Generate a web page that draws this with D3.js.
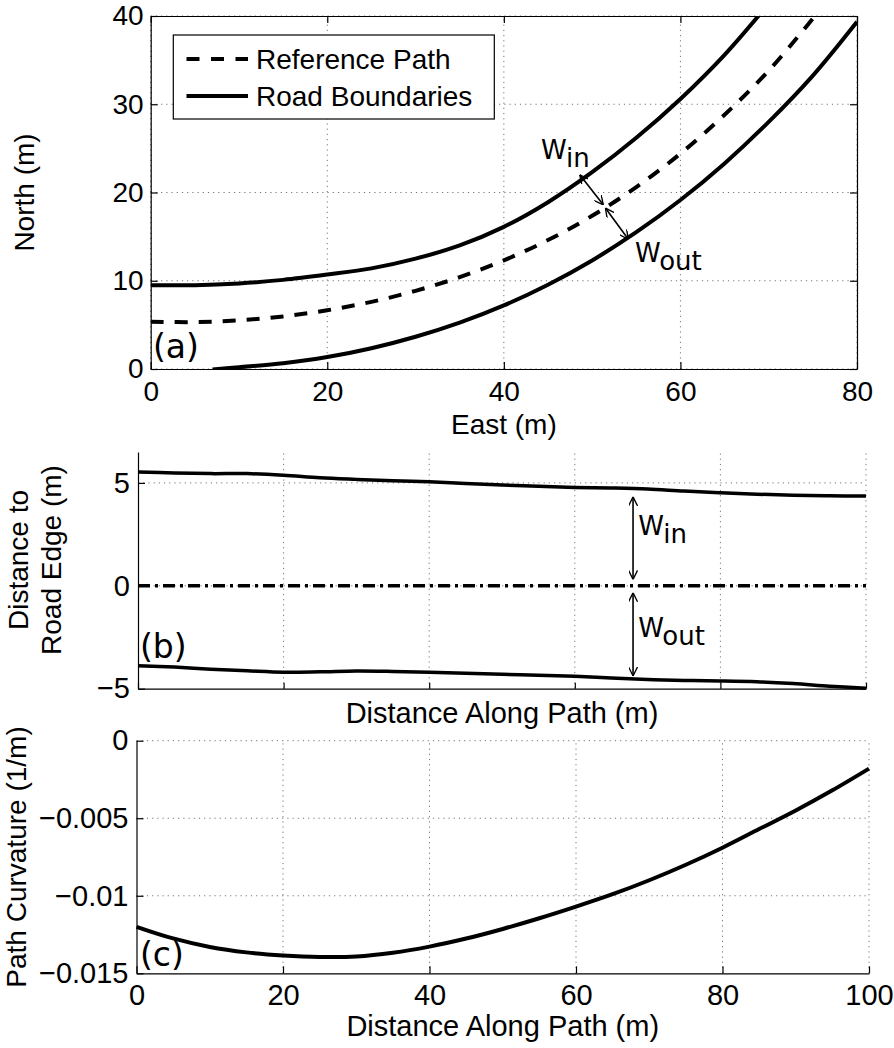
<!DOCTYPE html>
<html>
<head>
<meta charset="utf-8">
<script src="https://cdn.jsdelivr.net/npm/d3@7/dist/d3.min.js"></script>
<style>
  html, body { margin: 0; padding: 0; background: #fff; }
  svg { display: block; }
  text { font-family: "Liberation Sans", Arial, sans-serif; fill: #000; }
  .ann { font-family: "DejaVu Sans", sans-serif; }
</style>
</head>
<body>
<script>
// ---------- DATA ----------
// Panel (a): road geometry (East, North in m)
const refEast   = [0, 5, 10, 15, 20, 25, 30, 35, 40, 45, 50, 55, 60, 65, 70, 75];
const refNorth  = [5.36, 5.31, 5.51, 5.96, 6.66, 7.61, 8.86, 10.41, 12.31, 14.61, 17.36, 20.61, 24.41, 28.81, 33.81, 39.7];
const innerEast = [0, 5, 10, 15, 20, 25, 30, 35, 40, 45, 50, 55, 60, 65, 70];
const innerNorth= [9.5, 9.5, 9.7, 10.1, 10.7, 11.4, 12.5, 14.0, 16.1, 18.9, 22.3, 26.2, 30.6, 35.6, 41.4];
const outerEast = [7, 10, 15, 20, 25, 30, 35, 40, 45, 50, 55, 60, 65, 70, 75, 80];
const outerNorth= [-0.05, 0.2, 0.65, 1.35, 2.35, 3.65, 5.25, 7.2, 9.55, 12.3, 15.5, 19.15, 23.3, 28.0, 33.25, 39.35];
const eastTicks  = [0, 20, 40, 60, 80];
const northTicks = [0, 10, 20, 30, 40];

// Panel (b): distance to road edge vs distance along path
const alongPath = [0, 5, 10, 15, 20, 25, 30, 35, 40, 45, 50, 55, 60, 65, 70, 75, 80, 85, 90, 95, 100];
const wIn  = [5.53, 5.48, 5.45, 5.45, 5.37, 5.25, 5.17, 5.10, 5.05, 4.97, 4.90, 4.83, 4.78, 4.75, 4.70, 4.60, 4.52, 4.45, 4.40, 4.37, 4.36];
const wOut = [-3.88, -3.95, -4.05, -4.13, -4.20, -4.18, -4.14, -4.16, -4.20, -4.25, -4.30, -4.35, -4.40, -4.48, -4.55, -4.60, -4.62, -4.66, -4.75, -4.88, -4.98];
const edgeTicks = [-5, 0, 5];

// Panel (c): path curvature
const curvature = [-0.0120, -0.01275, -0.0133, -0.01365, -0.01385, -0.01395, -0.01392, -0.01368, -0.01328, -0.01276, -0.01214, -0.01145, -0.0107, -0.0099, -0.0090, -0.0080, -0.0069, -0.0057, -0.0045, -0.0032, -0.0018];
const pathTicks = [0, 20, 40, 60, 80, 100];
const curvTicks = [-0.015, -0.01, -0.005, 0];
const curvTickLabels = ["\u22120.015", "\u22120.01", "\u22120.005", "0"];

// Annotations (data coordinates)
const arrowsA = [[48.6, 22.0, 51.26, 18.6], [51.5, 18.24, 54.1, 14.7]];
const arrowsB = [[68, 4.32, 68, 0.31], [68, -0.34, 68, -4.38]];

// ---------- LAYOUT ----------
const W = 894, H = 1048;
const svg = d3.select("body").append("svg").attr("width", W).attr("height", H);

const defs = svg.append("defs");
const mk = defs.append("marker").attr("id", "ah")
  .attr("viewBox", "0 0 10 10").attr("refX", 10).attr("refY", 5)
  .attr("markerWidth", 9).attr("markerHeight", 9).attr("markerUnits", "userSpaceOnUse")
  .attr("orient", "auto-start-reverse");
mk.append("path").attr("d", "M0,0 L10,5 L0,10").attr("fill", "none").attr("stroke", "#000").attr("stroke-width", 1.5);

const gridStyle = g => g.attr("stroke", "#666").attr("stroke-width", 0.9).attr("stroke-dasharray", "1.2,4").attr("fill", "none");

function addClip(id, x0, x1, y0, y1) {
  defs.append("clipPath").attr("id", id).append("rect")
    .attr("x", x0).attr("y", y0).attr("width", x1 - x0).attr("height", y1 - y0);
}

function grid(g, x, y, xt, yt) {
  const [x0, x1] = x.range(), [y0, y1] = y.range();
  xt.forEach(v => g.append("line").attr("x1", x(v)).attr("x2", x(v)).attr("y1", y0).attr("y2", y1).call(gridStyle));
  yt.forEach(v => g.append("line").attr("x1", x0).attr("x2", x1).attr("y1", y(v)).attr("y2", y(v)).call(gridStyle));
}

function styleAxis(g, fs) {
  g.select(".domain").attr("stroke", "#000").attr("stroke-width", 1.2);
  g.selectAll(".tick line").attr("stroke", "#000").attr("stroke-width", 1.2);
  g.selectAll(".tick text").attr("font-size", fs).attr("font-family", "Liberation Sans, Arial, sans-serif");
}

// ================= PANEL (a) =================
const xA = d3.scaleLinear().domain([0, 80]).range([150.7, 857]);
const yA = d3.scaleLinear().domain([0, 40]).range([369, 16]);
const gA = svg.append("g");
grid(gA, xA, yA, eastTicks, northTicks);
addClip("clipA", 150.7, 857, 16, 369);

const lineA = d3.line().x(d => xA(d[0])).y(d => yA(d[1])).curve(d3.curveCatmullRom.alpha(0.5));
const curvesA = gA.append("g").attr("clip-path", "url(#clipA)");
curvesA.append("path").datum(d3.zip(innerEast, innerNorth)).attr("d", lineA)
  .attr("fill", "none").attr("stroke", "#000").attr("stroke-width", 4);
curvesA.append("path").datum(d3.zip(outerEast, outerNorth)).attr("d", lineA)
  .attr("fill", "none").attr("stroke", "#000").attr("stroke-width", 4);
curvesA.append("path").datum(d3.zip(refEast, refNorth)).attr("d", lineA)
  .attr("fill", "none").attr("stroke", "#000").attr("stroke-width", 4).attr("stroke-dasharray", "13,11");

const axA = [
  gA.append("g").attr("transform", `translate(0,${yA(0)})`).call(d3.axisBottom(xA).tickValues(eastTicks).tickSizeInner(-7).tickSizeOuter(0).tickPadding(14)),
  gA.append("g").attr("transform", `translate(${xA(0)},0)`).call(d3.axisLeft(yA).tickValues(northTicks).tickSizeInner(-7).tickSizeOuter(0).tickPadding(14)),
  gA.append("g").attr("transform", `translate(0,${yA(40)})`).call(d3.axisTop(xA).tickValues(eastTicks).tickSizeInner(-7).tickSizeOuter(0).tickFormat("")),
  gA.append("g").attr("transform", `translate(${xA(80)},0)`).call(d3.axisRight(yA).tickValues(northTicks).tickSizeInner(-7).tickSizeOuter(0).tickFormat(""))
];
axA.forEach(g => styleAxis(g, 28));
axA[0].selectAll(".tick text").attr("dy", null).attr("y", 32);
axA[1].selectAll(".tick text").attr("x", -7);

arrowsA.forEach(a => gA.append("line")
  .attr("x1", xA(a[0])).attr("y1", yA(a[1])).attr("x2", xA(a[2])).attr("y2", yA(a[3]))
  .attr("stroke", "#000").attr("stroke-width", 1.6)
  .attr("marker-start", "url(#ah)").attr("marker-end", "url(#ah)"));

function wLabel(g, x, y, sub) {
  const t = g.append("text").attr("class", "ann").attr("x", x).attr("y", y).attr("font-size", 26);
  t.append("tspan").text("W");
  t.append("tspan").attr("dy", 8).text(sub);
}
wLabel(gA, xA(44.2), yA(23.83), "in");
wLabel(gA, xA(54.85), yA(12.16), "out");

gA.append("text").attr("class", "ann").attr("x", 153).attr("y", 358).attr("font-size", 33).text("(a)");

const lg = gA.append("g");
lg.append("rect").attr("x", 173.3).attr("y", 35).attr("width", 321).attr("height", 84)
  .attr("fill", "#fff").attr("stroke", "#000").attr("stroke-width", 1.2);
lg.append("line").attr("x1", 186.5).attr("x2", 248).attr("y1", 59).attr("y2", 59)
  .attr("stroke", "#000").attr("stroke-width", 4).attr("stroke-dasharray", "13,11.5");
lg.append("line").attr("x1", 186.5).attr("x2", 248).attr("y1", 96).attr("y2", 96)
  .attr("stroke", "#000").attr("stroke-width", 4);
lg.append("text").attr("x", 256).attr("y", 68.5).attr("font-size", 28).text("Reference Path");
lg.append("text").attr("x", 256).attr("y", 106).attr("font-size", 28).text("Road Boundaries");

gA.append("text").attr("x", (150.7 + 857) / 2).attr("y", 434).attr("text-anchor", "middle").attr("font-size", 28).text("East (m)");
gA.append("text").attr("transform", `translate(34,${(16 + 369) / 2}) rotate(-90)`).attr("text-anchor", "middle").attr("font-size", 28).text("North (m)");

// ================= PANEL (b) =================
const xB = d3.scaleLinear().domain([0, 100]).range([138, 866]);
const yB = d3.scaleLinear().domain([-5, 6.5]).range([688.7, 452]);
const gB = svg.append("g");
grid(gB, xB, yB, pathTicks.slice(1), edgeTicks.slice(1));

const lineB = d3.line().x(d => xB(d[0])).y(d => yB(d[1])).curve(d3.curveCatmullRom.alpha(0.5));
gB.append("path").datum(d3.zip(alongPath, wIn)).attr("d", lineB)
  .attr("fill", "none").attr("stroke", "#000").attr("stroke-width", 3.5);
gB.append("path").datum(d3.zip(alongPath, wOut)).attr("d", lineB)
  .attr("fill", "none").attr("stroke", "#000").attr("stroke-width", 3.5);
gB.append("path").datum([[0, 0], [100, 0]]).attr("d", lineB)
  .attr("fill", "none").attr("stroke", "#000").attr("stroke-width", 3.5).attr("stroke-dasharray", "12,5,3,5");

const axB = [
  gB.append("g").attr("transform", `translate(0,${yB(-5)})`).call(d3.axisBottom(xB).tickValues(pathTicks).tickSizeInner(-6).tickSizeOuter(0).tickFormat("")),
  gB.append("g").attr("transform", `translate(${xB(0)},0)`).call(d3.axisLeft(yB).tickValues(edgeTicks).tickSizeInner(-7).tickSizeOuter(0).tickFormat(d => d < 0 ? "\u2212" + Math.abs(d) : d))
];
axB.forEach(g => styleAxis(g, 29));
axB[1].selectAll(".tick text").attr("x", -8);

arrowsB.forEach(a => gB.append("line")
  .attr("x1", xB(a[0])).attr("y1", yB(a[1])).attr("x2", xB(a[2])).attr("y2", yB(a[3]))
  .attr("stroke", "#000").attr("stroke-width", 1.6)
  .attr("marker-start", "url(#ah)").attr("marker-end", "url(#ah)"));
wLabel(gB, xB(68.7), yB(2.46), "in");
wLabel(gB, xB(68.7), yB(-2.48), "out");

gB.append("text").attr("class", "ann").attr("x", 140).attr("y", 658).attr("font-size", 33).text("(b)");
gB.append("text").attr("x", (138 + 866) / 2).attr("y", 723).attr("text-anchor", "middle").attr("font-size", 29).text("Distance Along Path (m)");
const ylB = gB.append("text").attr("transform", `translate(0,560) rotate(-90)`).attr("text-anchor", "middle").attr("font-size", 28);
ylB.append("tspan").attr("x", 0).attr("y", 28).text("Distance to");
ylB.append("tspan").attr("x", 0).attr("y", 61).text("Road Edge (m)");

// ================= PANEL (c) =================
const xC = d3.scaleLinear().domain([0, 100]).range([136.5, 869]);
const yC = d3.scaleLinear().domain([-0.015, 0]).range([973.3, 740.7]);
const gC = svg.append("g");
grid(gC, xC, yC, pathTicks.slice(1), curvTicks.slice(1));

const lineC = d3.line().x(d => xC(d[0])).y(d => yC(d[1])).curve(d3.curveCatmullRom.alpha(0.5));
gC.append("path").datum(d3.zip(alongPath, curvature)).attr("d", lineC)
  .attr("fill", "none").attr("stroke", "#000").attr("stroke-width", 4);

const axC = [
  gC.append("g").attr("transform", `translate(0,${yC(-0.015)})`).call(d3.axisBottom(xC).tickValues(pathTicks).tickSizeInner(-7).tickSizeOuter(0).tickPadding(14)),
  gC.append("g").attr("transform", `translate(${xC(0)},0)`).call(d3.axisLeft(yC).tickValues(curvTicks).tickSizeInner(-7).tickSizeOuter(0).tickFormat((d, i) => curvTickLabels[i]))
];
axC.forEach(g => styleAxis(g, 29));
axC[0].selectAll(".tick text").attr("dy", null).attr("y", 32);
axC[1].selectAll(".tick text").attr("x", -8);

gC.append("text").attr("class", "ann").attr("x", 140).attr("y", 966).attr("font-size", 33).text("(c)");
gC.append("text").attr("x", (136.5 + 869) / 2).attr("y", 1036).attr("text-anchor", "middle").attr("font-size", 29).text("Distance Along Path (m)");
gC.append("text").attr("transform", `translate(26,${(740.7 + 973.3) / 2}) rotate(-90)`).attr("text-anchor", "middle").attr("font-size", 28).text("Path Curvature (1/m)");
</script>
</body>
</html>
